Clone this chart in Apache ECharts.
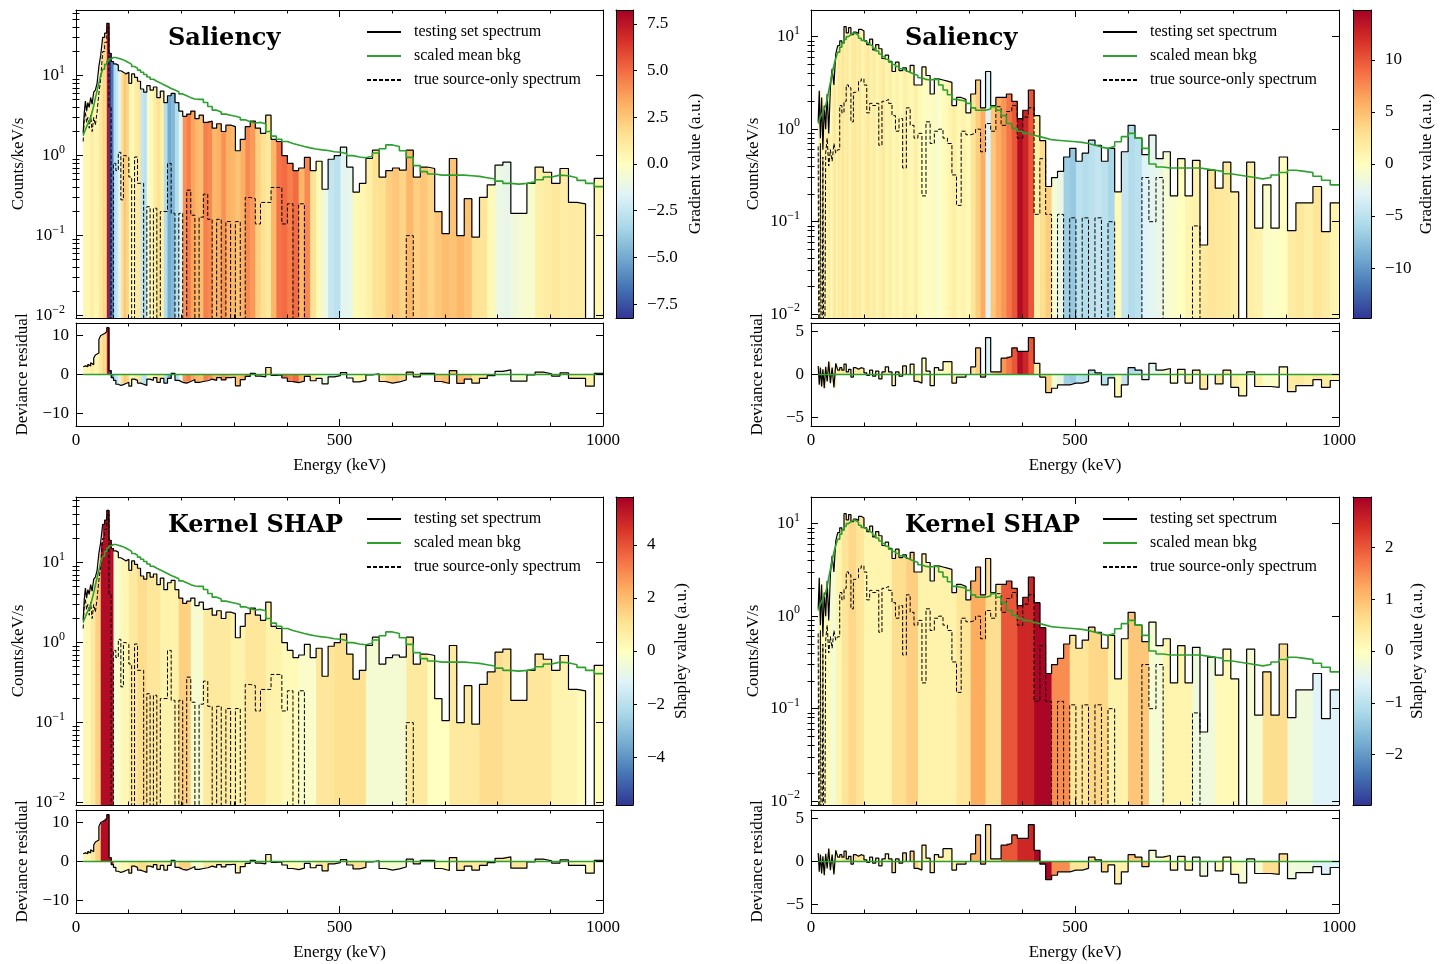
<!DOCTYPE html>
<html><head><meta charset="utf-8">
<script src="https://cdn.jsdelivr.net/npm/echarts@6.0.0/dist/echarts.min.js"></script>
<style>html,body{margin:0;padding:0;background:#fff}#chart{width:1447px;height:964px}</style>
</head><body><div id="chart"></div>
<script>
// ---------------- DATA ----------------
// energy bin edges (keV)
const edges = [13.6,15.6,17.8,20.1,22.5,25.1,27.8,30.6,33.6,36.7,
 40.0,43.4,46.9,50.6,54.4,58.4,62.5,66.7,71.1,75.6,
 80.3,85.1,90.0,95.1,100.3,105.6,111.1,116.7,122.5,128.4,
 134.4,140.6,146.9,153.4,160.0,166.7,173.6,180.6,187.8,195.1,
 202.5,210.1,217.8,225.6,233.6,241.7,250.0,258.4,266.9,275.6,
 284.4,293.4,302.5,311.7,321.1,330.6,340.3,350.1,360.0,370.1,
 380.3,390.6,401.1,411.7,422.5,433.4,444.4,455.6,466.9,478.4,
 490.0,501.7,513.6,525.6,537.8,550.1,562.5,575.1,587.8,600.6,
 613.6,626.7,640.0,653.4,666.9,680.6,694.4,708.4,722.5,736.7,
 751.1,765.6,780.3,795.1,810.0,825.1,840.3,855.6,871.1,886.7,
 902.5,918.4,934.5,950.6,966.9,983.4,1000];

// left column spectrum (Counts/keV/s)
const specL = [1.9,3.4,4.8,3.6,4.6,4.0,5.3,4.4,6.2,6.6,
 8,13,18,30,34,45,19,15,14,13.5,
 11.5,11,10.5,11,8,10.5,9.5,8.5,6.8,6.2,
 7.5,6.6,7.2,5.3,6.4,4.6,5.6,6.0,4.6,3.6,
 3.1,3.3,3.6,2.9,3.2,2.6,2.7,2.2,2.5,2.0,
 2.4,2.3,1.15,1.6,2.3,2.7,2.2,1.9,3.2,1.6,
 1.5,1.0,0.8,0.65,0.7,0.95,0.65,0.85,0.38,0.9,
 1.0,1.28,0.72,0.35,0.45,0.92,1.17,0.54,0.65,0.7,
 0.66,1.17,0.54,0.72,0.69,0.2,0.106,0.92,0.1,0.29,
 0.096,0.3,0.43,0.76,0.83,0.19,0.19,0.45,0.72,0.62,
 0.45,0.69,0.26,0.25,0,0.52];
const bkgL = [1.8,1.95,2.1,2.3,2.5,2.7,3.0,3.5,4.2,5.2,
 6.5,8.0,10,12,13.8,15.2,16.2,16.8,16.8,16.5,
 16.1,15.7,15.1,14.5,13.8,13.0,12.4,11.7,11.0,10.3,
 9.6,9.0,8.5,8.1,7.7,7.3,6.9,6.6,6.3,5.9,
 5.6,5.3,5.1,5.05,5.05,4.6,4.1,3.7,3.5,3.3,
 3.2,3.1,3.0,2.8,2.65,2.55,2.6,2.5,2.0,1.75,
 1.6,1.5,1.42,1.36,1.3,1.25,1.21,1.18,1.16,1.12,
 1.1,1.06,1.0,0.96,0.94,0.98,1.08,1.22,1.36,1.3,
 1.15,0.95,0.75,0.63,0.59,0.57,0.57,0.57,0.57,0.56,
 0.55,0.53,0.51,0.48,0.45,0.44,0.45,0.47,0.5,0.54,
 0.57,0.56,0.53,0.49,0.45,0.41];
const srcL = [1.5,2.8,3.5,2.6,3.0,2.2,3.2,2.0,3.0,2.4,
 3.5,6,9,20,26,40,4,0,0.8,0.65,
 1.1,0.28,1.0,0.95,0.54,0,0.96,0.45,0.45,0,
 0.23,0,0.22,0,0.2,0.2,0.8,0.19,0,0.19,
 0,0.37,0.18,0,0.17,0.33,0.16,0,0.16,0,
 0.15,0,0.15,0,0.3,0.29,0.14,0.26,0.26,0.4,
 0.4,0.14,0.25,0,0.25,0,0,0,0,0,
 0,0,0,0,0,0,0,0,0,0,
 0,0.1,0,0,0,0,0,0,0,0,
 0,0,0,0,0,0,0,0,0,0,
 0,0,0,0,0,0];
const residL = [2.0,2.2,2.5,2.0,2.6,2.2,3.0,2.5,4.2,5.0,
 5.5,9.0,10,10.5,11,12,1.0,-0.8,-1.5,-2.5,
 -2.8,-2.6,-2.3,-2.0,-3.0,-1.2,-1.5,-2.2,-2.5,-2.8,
 -1.2,-1.5,-0.8,-2.0,-1.0,-2.2,-1.0,0.3,-1.5,-2.0,
 -2.2,-1.8,-1.3,-2.0,-1.8,-1.6,-1.2,-1.5,-0.8,-1.4,
 -0.8,-0.7,-2.9,-1.3,-0.5,0.3,-0.4,-0.6,1.8,-0.2,
 -0.1,-0.9,-1.8,-2.1,-1.7,-0.5,-1.6,-1.0,-2.4,-0.6,
 -0.3,0.5,-0.9,-1.9,-1.5,-0.1,0.2,-1.8,-2.2,-1.9,
 -1.4,0.6,-0.6,0.3,0.3,-1.8,-2.3,1.0,-2.3,-1.2,
 -2.2,-1.0,-0.3,0.8,1.2,-1.7,-1.7,-0.1,0.6,0.2,
 -0.4,0.4,-1.0,-1.0,-3.0,0.3];
const salL = [0.5,0.5,0.5,0.5,0.5,0.5,1.0,1.0,0.5,0.5,
 0.5,1.2,1.2,2.0,1.5,7.5,-8,-6.5,-3,-2.5,
 -1.5,1.5,2.5,2.0,0.5,0.3,1.0,1.2,-2.5,-2.8,
 -0.5,0.3,1.0,1.5,0.8,-3,-5,-4.5,-3,-1.5,
 4,4.5,3.5,3.0,2.8,4.5,4.2,3,3.2,4,
 3.2,3,2.6,3.2,4.2,3.8,2.2,1.6,1.2,3,
 4.8,5,4.5,5,3,4.2,1.5,0.3,-1.0,-2.5,
 -2.8,-1.5,-1.2,0.3,0.5,0.8,1.5,1.6,2.2,2.5,
 2.0,3.0,2.2,2.5,2.0,2.5,2.8,2.6,3.0,2.6,
 1.5,1.4,0.3,-1.0,-1.2,-0.8,-0.5,-0.4,0.8,1.0,
 1.2,0.9,1.1,1.0,0.6,0.5];
const shapL = [0.3,0.3,0.3,0.3,0.3,0.3,0.8,0.8,0.8,1.5,
 1.5,1.5,5.5,5.5,5.5,5.5,5.5,5.5,-0.3,-0.3,
 -0.3,0.3,0.3,0.3,0.8,0.8,0.8,1.2,1.2,1.2,
 0.9,0.9,0.9,0.9,0.5,0.5,0.5,0.5,0.5,1.5,
 1.5,1.5,-0.3,-0.3,-0.3,0.8,0.8,0.8,0.8,0.8,
 0.8,0.5,0.5,0.5,0.9,0.9,0.9,0.9,0.5,0.5,
 0.5,0.2,0.2,0.2,-0.2,-0.2,-0.2,0.9,0.9,0.9,
 1.1,1.1,1.1,1.1,1.1,-0.4,-0.4,-0.4,-0.4,-0.4,
 -0.4,0.8,0.8,0.8,0,0,0,0.8,0.8,0.8,
 0.8,1.2,1.2,1.2,0.9,0.9,0.9,0.9,0.9,0.9,
 0.4,0.4,0.4,0.1,0.1,0.1];

// right column spectrum
const specR = [1.2,2.6,0.8,2.2,0.6,1.8,1.0,2.4,0.9,2.8,
 4.5,3.0,6.5,8.0,9.0,8.5,12.8,11.0,12.5,10.5,
 11.2,10.8,12.0,11.5,9.0,8.2,9.4,7.2,8.2,7.4,
 5.8,6.3,5.4,4.2,5.3,4.3,4.6,4.2,4.9,3.0,
 3.0,4.7,3.8,2.4,3.5,3.4,3.3,3.2,1.8,2.2,
 2.1,1.5,2.4,3.4,1.7,4.2,1.8,2.2,2.2,2.4,
 2.0,1.3,1.6,2.65,1.4,0.75,0.24,0.3,0.35,0.5,
 0.62,0.45,0.55,0.76,0.67,0.45,0.62,0.21,0.57,1.1,
 0.8,0.53,0.86,0.48,0.57,0.19,0.48,0.19,0.46,0.056,
 0.36,0.23,0.44,0.21,0,0.44,0.085,0.25,0.085,0.5,
 0.08,0.16,0.16,0.24,0.078,0.16];
const bkgR = [1.15,1.25,1.35,1.45,1.55,1.65,1.8,2.1,2.6,3.2,
 4.0,4.9,5.8,6.8,7.7,8.5,9.3,10.0,10.5,10.9,
 10.8,10.3,9.6,9.1,8.7,8.3,7.9,7.5,7.0,6.5,
 6.1,5.7,5.3,5.0,4.75,4.5,4.3,4.1,3.95,3.8,
 3.6,3.45,3.4,3.45,3.45,3.0,2.65,2.35,2.1,2.05,
 2.0,1.9,1.7,1.6,1.6,1.65,1.75,1.6,1.4,1.15,
 1.02,0.95,0.9,0.86,0.83,0.8,0.77,0.76,0.75,0.74,
 0.73,0.72,0.7,0.67,0.64,0.62,0.65,0.73,0.83,0.9,
 0.8,0.62,0.42,0.39,0.38,0.38,0.38,0.38,0.38,0.37,
 0.36,0.35,0.33,0.32,0.31,0.3,0.29,0.3,0.32,0.34,
 0.36,0.35,0.34,0.31,0.28,0.25];
const srcR = [0.65,0,0.7,0,0.5,0,0.55,0.8,0.4,0.6,
 0.45,0.7,0.55,0.6,1.8,1.5,2.0,3.0,2.8,1.2,
 2.5,2.6,3.3,3.5,3.0,1.5,1.9,1.8,1.9,0.67,
 2.0,2.1,1.9,1.4,0.95,1.3,0.38,1.7,1.1,0.8,
 0.9,0.19,1.2,0.7,0.95,1.0,0.8,0.7,0.32,0.15,
 0.95,0.87,0.9,1.0,0.57,1.15,0.95,1.75,1.1,1.55,
 1.8,0.8,1.35,1.7,0.12,0.48,0.12,0,0.12,0,
 0.11,0,0.11,0,0.11,0,0.1,0,0,0,
 0,0.3,0.1,0.3,0,0,0,0,0.09,0,
 0,0,0,0,0,0,0,0,0,0,
 0,0,0,0,0,0];
const residR = [1.0,-1.2,0.8,-1.4,0.6,-1.6,0.9,-0.8,1.5,-1.0,
 0.8,-1.5,1.3,0.5,0.8,0.5,1.2,0.3,0.6,-0.3,
 0.8,0.6,0.8,0.7,0.2,-0.1,0.5,-0.2,0.4,-0.5,
 0.3,0.9,0.3,-1.3,0.3,-0.2,1.0,0.0,1.2,-0.8,
 -1.0,1.9,0.4,-1.3,0.8,0.5,1.5,1.5,-1.0,-0.3,
 -0.3,0.0,0.9,3.1,-0.3,4.3,0.3,0.3,1.9,2.1,
 3.1,2.7,2.7,4.3,1.3,-0.3,-2.1,-1.6,-1.2,-1.2,
 -1.0,-1.0,-0.8,0.5,0.2,-1.2,-0.4,-2.6,-1.2,0.8,
 0.5,-0.6,1.3,0.5,0.7,-1.0,0.6,-1.0,0.5,-1.7,
 0.0,-1.1,0.5,-1.5,-2.5,0.3,-1.4,-1.4,-1.5,0.9,
 -2.0,-1.3,-1.3,-0.6,-1.5,-0.7];
const salR = [1.0,1.5,0.5,1.5,1.0,2.0,1.0,1.5,2.0,0.5,
 1.5,2.5,1.0,2.0,1.5,2.5,1.5,2.0,1.0,1.8,
 2.2,1.5,2.0,1.0,1.5,2.2,1.2,1.8,1.0,1.5,
 2.0,1.0,1.5,0.8,1.2,0.5,1.5,1.0,0.8,1.5,
 0.5,0.2,-0.5,0.3,-0.8,-0.3,0.5,1.0,1.5,0.8,
 1.2,0.6,2.5,4.0,6,-3,4.5,6,7,8.5,
 10,14,12.5,10,1.5,3,4,-1,-2,-6.5,
 -7,-5,-5.5,-5,-4.5,-5,-6,0.5,-4.5,-5.5,
 -5,-3,-2.5,-2,-1,-0.5,0,1.0,1.2,2.0,
 2.5,2.2,2.0,1.5,0.8,1.5,1.2,-0.5,-0.3,0,
 1.8,2.2,1.5,2.5,1.8,1.0];
const shapR = [0.1,0.1,0.1,0.1,0.1,0.1,0.1,0.1,0.1,-0.2,
 -0.2,-0.2,0.2,0.2,0.2,0.5,0.5,0.5,0.7,0.7,
 0.7,0.5,0.5,0.5,0.2,0.2,0.2,0.2,0.2,0.2,
 0.2,0.2,0.2,0.6,0.6,0.6,0.6,0.8,0.8,0.8,
 0.25,0.25,0.25,0.25,0.25,0.25,0.25,0.25,0.25,0.5,
 0.5,0.5,1.2,1.2,1.2,0.6,0.6,0.6,2.0,2.0,
 2.0,2.5,2.5,2.5,2.9,2.9,2.9,1.5,1.5,1.5,
 0.5,0.5,0.5,0.7,0.7,0.7,0.25,0.25,0.25,0.9,
 0.9,0.9,-0.2,-0.2,0.2,0.2,0.2,0.2,-0.3,-0.3,
 -0.3,0.1,0.1,0.1,-0.2,-0.2,-0.2,0.6,0.6,0.6,
 -0.3,-0.3,-0.3,-0.6,-0.6,-0.6];

const titles = ['Saliency', 'Saliency', 'Kernel SHAP', 'Kernel SHAP'];
const legendNames = ['testing set spectrum', 'scaled mean bkg', 'true source-only spectrum'];
const cbNames = ['Gradient value (a.u.)', 'Gradient value (a.u.)', 'Shapley value (a.u.)', 'Shapley value (a.u.)'];
const cbTicksTL = [-7.5,-5,-2.5,0,2.5,5,7.5];
const cbTicksTR = [-10,-5,0,5,10];
const cbTicksBL = [-4,-2,0,2,4];
const cbTicksBR = [-2,-1,0,1,2];
const logMajorTicks = [0.01, 0.1, 1, 10];
const residTicksL = [-10, 0, 10];
const residTicksR = [-5, 0, 5];
const xTickLabels = [0, 500, 1000];

// ---------------- STYLE / LAYOUT ----------------
const FONT = '"Liberation Serif","Times New Roman",serif';
const TXT = {fontFamily: FONT, fontSize: 17, color: '#000'};
const CMAP = ['#313695','#4575b4','#74add1','#abd9e9','#e0f3f8','#ffffbf','#fee090','#fdae61','#f46d43','#d73027','#a50026'];
const GREEN = '#2ca02c';

const panels = [
  {left:76, top:10, width:527, cbLeft:616, cbWidth:17, title:titles[0], spec:specL, bkg:bkgL, src:srcL, resid:residL, attr:salL,
   range:8.24, cbTicks:cbTicksTL, cbDigits:1, cbName:cbNames[0], cbGap:54, yMin:0.00935, yMax:66, rRange:13.2, rTicks:residTicksL, legLeft:366},
  {left:811, top:10, width:528, cbLeft:1353, cbWidth:18, title:titles[1], spec:specR, bkg:bkgR, src:srcR, resid:residR, attr:salR,
   range:14.8, cbTicks:cbTicksTR, cbDigits:0, cbName:cbNames[1], cbGap:47, yMin:0.0091, yMax:19.4, rRange:6.0, rTicks:residTicksR, legLeft:1102},
  {left:76, top:497, width:527, cbLeft:616, cbWidth:17, title:titles[2], spec:specL, bkg:bkgL, src:srcL, resid:residL, attr:shapL,
   range:5.8, cbTicks:cbTicksBL, cbDigits:0, cbName:cbNames[2], cbGap:40, yMin:0.00935, yMax:66, rRange:13.2, rTicks:residTicksL, legLeft:366},
  {left:811, top:497, width:528, cbLeft:1353, cbWidth:18, title:titles[3], spec:specR, bkg:bkgR, src:srcR, resid:residR, attr:shapR,
   range:2.97, cbTicks:cbTicksBR, cbDigits:0, cbName:cbNames[3], cbGap:38, yMin:0.0091, yMax:19.4, rRange:6.0, rTicks:residTicksR, legLeft:1102}
];

function fmtNum(v, d) { return (v < 0 ? '\u2212' : '') + Math.abs(v).toFixed(d); }
function logFmt(v) { const e = Math.round(Math.log10(v)); return '{b|10}{s|' + (e < 0 ? '\u2212' : '') + Math.abs(e) + '}'; }
const logRich = {
  b: {fontFamily: FONT, fontSize: 17, color: '#000', lineHeight: 17},
  s: {fontFamily: FONT, fontSize: 12, color: '#000', lineHeight: 12, padding: [0, 0, 12, 0]}
};

function renderBar(params, api) {
  const lo = api.value(0), hi = api.value(1), v = api.value(2), base = api.value(4);
  const p0 = api.coord([lo, base]);
  const p1 = api.coord([hi, v]);
  const rect = {x: p0[0], y: Math.min(p0[1], p1[1]), width: p1[0] - p0[0] + 0.6, height: Math.abs(p1[1] - p0[1])};
  const cs = params.coordSys;
  const clipped = echarts.graphic.clipRectByRect(rect, {x: cs.x, y: cs.y, width: cs.width, height: cs.height});
  if (!clipped || clipped.height <= 0) return null;
  return {type: 'rect', shape: clipped, style: {fill: api.visual('color')}};
}

const grid = [], xAxis = [], yAxis = [], series = [], visualMap = [], legend = [], title = [];
const lineAx = {show: true, onZero: false, lineStyle: {color: '#000', width: 1}};

panels.forEach((p) => {
  const gMain = grid.length; grid.push({left: p.left, top: p.top, width: p.width, height: 308});
  const gRes = grid.length; grid.push({left: p.left, top: p.top + 313, width: p.width, height: 103});
  const gCb = grid.length; grid.push({left: p.cbLeft, top: p.top, width: p.cbWidth, height: 308});

  const xBase = {type: 'value', min: 0, max: 1000, interval: 500, z: 5, axisLine: lineAx,
    axisTick: {show: true, inside: true, length: 7, lineStyle: {color: '#000'}},
    minorTick: {show: true, splitNumber: 5, length: 3.5, lineStyle: {color: '#000'}},
    splitLine: {show: false}, minorSplitLine: {show: false}, axisLabel: {show: false}};
  const xMain = xAxis.length;
  xAxis.push(Object.assign({}, xBase, {gridIndex: gMain, position: 'bottom'}));
  xAxis.push(Object.assign({}, xBase, {gridIndex: gMain, position: 'top'}));
  const xRes = xAxis.length;
  xAxis.push(Object.assign({}, xBase, {gridIndex: gRes, position: 'bottom',
    axisLabel: Object.assign({show: true, margin: 6, customValues: xTickLabels, formatter: v => String(v)}, TXT),
    name: 'Energy (keV)', nameLocation: 'middle', nameGap: 31, nameTextStyle: TXT}));
  xAxis.push(Object.assign({}, xBase, {gridIndex: gRes, position: 'top'}));
  const xCb = xAxis.length;
  const cbX = {type: 'value', min: 0, max: 1, gridIndex: gCb, z: 5, axisLine: lineAx, axisTick: {show: false}, axisLabel: {show: false}, splitLine: {show: false}};
  xAxis.push(Object.assign({}, cbX, {position: 'bottom'}));
  xAxis.push(Object.assign({}, cbX, {position: 'top'}));

  const majors = logMajorTicks.filter(v => v >= p.yMin && v <= p.yMax);
  const minors = [];
  majors.concat([0.001, 100]).forEach(d => { for (let m = 2; m <= 9; m++) { const v = m * d; if (v > p.yMin && v < p.yMax) minors.push(v); } });
  const yBase = {type: 'log', logBase: 10, gridIndex: gMain, min: p.yMin, max: p.yMax, z: 5, splitLine: {show: false}, minorTick: {show: false}};
  const yMain = yAxis.length;
  yAxis.push(Object.assign({}, yBase, {position: 'left', axisLine: lineAx,
    axisTick: {show: true, inside: true, length: 7, customValues: majors, lineStyle: {color: '#000'}},
    axisLabel: {show: true, margin: 11, customValues: majors, formatter: logFmt, rich: logRich},
    name: 'Counts/keV/s', nameLocation: 'middle', nameRotate: 90, nameGap: 49, nameTextStyle: TXT}));
  yAxis.push(Object.assign({}, yBase, {position: 'left', axisLine: {show: false},
    axisTick: {show: true, inside: true, length: 3.5, customValues: minors, lineStyle: {color: '#000'}}, axisLabel: {show: false}}));
  yAxis.push(Object.assign({}, yBase, {position: 'right', axisLine: lineAx,
    axisTick: {show: true, inside: true, length: 7, customValues: majors, lineStyle: {color: '#000'}}, axisLabel: {show: false}}));
  yAxis.push(Object.assign({}, yBase, {position: 'right', axisLine: {show: false},
    axisTick: {show: true, inside: true, length: 3.5, customValues: minors, lineStyle: {color: '#000'}}, axisLabel: {show: false}}));

  const yRes = yAxis.length;
  const rBase = {type: 'value', gridIndex: gRes, min: -p.rRange, max: p.rRange, z: 5, axisLine: lineAx, splitLine: {show: false},
    axisTick: {show: true, inside: true, length: 7, customValues: p.rTicks, lineStyle: {color: '#000'}}};
  yAxis.push(Object.assign({}, rBase, {position: 'left',
    axisLabel: Object.assign({show: true, margin: 7, customValues: p.rTicks, formatter: v => fmtNum(v, 0)}, TXT),
    name: 'Deviance residual', nameLocation: 'middle', nameRotate: 90, nameGap: 45, nameTextStyle: TXT}));
  yAxis.push(Object.assign({}, rBase, {position: 'right', axisLabel: {show: false}}));

  const yCb = yAxis.length;
  yAxis.push({type: 'value', gridIndex: gCb, position: 'right', min: -p.range, max: p.range, z: 5, axisLine: lineAx, splitLine: {show: false},
    axisTick: {show: true, inside: false, length: 4, customValues: p.cbTicks, lineStyle: {color: '#000'}},
    axisLabel: Object.assign({show: true, margin: 14, customValues: p.cbTicks, formatter: v => fmtNum(v, p.cbDigits)}, TXT),
    name: p.cbName, nameLocation: 'middle', nameRotate: 90, nameGap: p.cbGap, nameTextStyle: TXT});
  yAxis.push({type: 'value', gridIndex: gCb, position: 'left', min: -p.range, max: p.range, z: 5, axisLine: lineAx,
    splitLine: {show: false}, axisTick: {show: false}, axisLabel: {show: false}});

  // main colored bins
  const barIdx = series.length;
  series.push({type: 'custom', xAxisIndex: xMain, yAxisIndex: yMain, renderItem: renderBar, z: 1, silent: true,
    data: p.spec.map((v, i) => [edges[i], edges[i + 1], v > 0 ? v : 1e-4, p.attr[i], p.yMin])});
  const stepPts = arr => { const d = arr.map((v, i) => [edges[i], v > 0 ? v : 1e-4]); d.push([edges[edges.length - 1], d[d.length - 1][1]]); return d; };
  series.push({type: 'line', name: legendNames[0], xAxisIndex: xMain, yAxisIndex: yMain, step: 'end', symbol: 'none', z: 3, silent: true,
    data: stepPts(p.spec), lineStyle: {color: '#000', width: 1.2}, itemStyle: {color: '#000'}});
  series.push({type: 'line', name: legendNames[1], xAxisIndex: xMain, yAxisIndex: yMain, step: 'end', symbol: 'none', z: 4, silent: true,
    data: stepPts(p.bkg), lineStyle: {color: GREEN, width: 1.6}, itemStyle: {color: GREEN}});
  series.push({type: 'line', name: legendNames[2], xAxisIndex: xMain, yAxisIndex: yMain, step: 'end', symbol: 'none', z: 3, silent: true,
    data: stepPts(p.src), lineStyle: {color: '#000', width: 1, type: [4, 2]}, itemStyle: {color: '#000'}});

  // residual
  const resBarIdx = series.length;
  series.push({type: 'custom', xAxisIndex: xRes, yAxisIndex: yRes, renderItem: renderBar, z: 1, silent: true,
    data: p.resid.map((v, i) => [edges[i], edges[i + 1], v, p.attr[i], 0])});
  const rPts = p.resid.map((v, i) => [edges[i], v]); rPts.push([edges[edges.length - 1], p.resid[p.resid.length - 1]]);
  series.push({type: 'line', name: 'residual', xAxisIndex: xRes, yAxisIndex: yRes, step: 'end', symbol: 'none', z: 3, silent: true,
    data: rPts, lineStyle: {color: '#000', width: 1.2}});
  series.push({type: 'line', name: 'zero', xAxisIndex: xRes, yAxisIndex: yRes, symbol: 'none', z: 4, silent: true,
    data: [[edges[0], 0], [edges[edges.length - 1], 0]], lineStyle: {color: GREEN, width: 1.6}});

  // colorbar
  series.push({type: 'custom', xAxisIndex: xCb, yAxisIndex: yCb, z: 1, silent: true, data: [[0, 1, -p.range, p.range]],
    renderItem: (params, api) => {
      const a = api.coord([api.value(0), api.value(2)]);
      const b = api.coord([api.value(1), api.value(3)]);
      const stops = CMAP.slice().reverse().map((c, i) => ({offset: i / (CMAP.length - 1), color: c}));
      return {type: 'rect', shape: {x: a[0], y: b[1], width: b[0] - a[0], height: a[1] - b[1]},
        style: {fill: new echarts.graphic.LinearGradient(0, 0, 0, 1, stops)}};
    }});

  visualMap.push({type: 'continuous', show: false, seriesIndex: [barIdx, resBarIdx], dimension: 3,
    min: -p.range, max: p.range, inRange: {color: CMAP}});

  legend.push({left: p.legLeft, top: p.top + 14, orient: 'vertical', data: legendNames, selectedMode: false,
    itemWidth: 34, itemHeight: 14, itemGap: 8, padding: 0,
    itemStyle: {opacity: 0, borderWidth: 0},
    formatter: n => '{t|' + n + '}',
    textStyle: {rich: {t: {fontFamily: FONT, fontSize: 16, color: '#000', lineHeight: 16, padding: [0, 0, 0, 8]}}}});

  title.push({text: p.title, left: p.left + (p.left > 500 ? 94 : 92), top: p.top + 17, padding: 0,
    textStyle: {fontFamily: '"DejaVu Serif",serif', fontWeight: 'bold', fontSize: 24, color: '#000'}});
});

const chart = echarts.init(document.getElementById('chart'), null, {renderer: 'canvas'});
chart.setOption({backgroundColor: '#fff', animation: false, grid, xAxis, yAxis, series, visualMap, legend, title});
</script></body></html>
